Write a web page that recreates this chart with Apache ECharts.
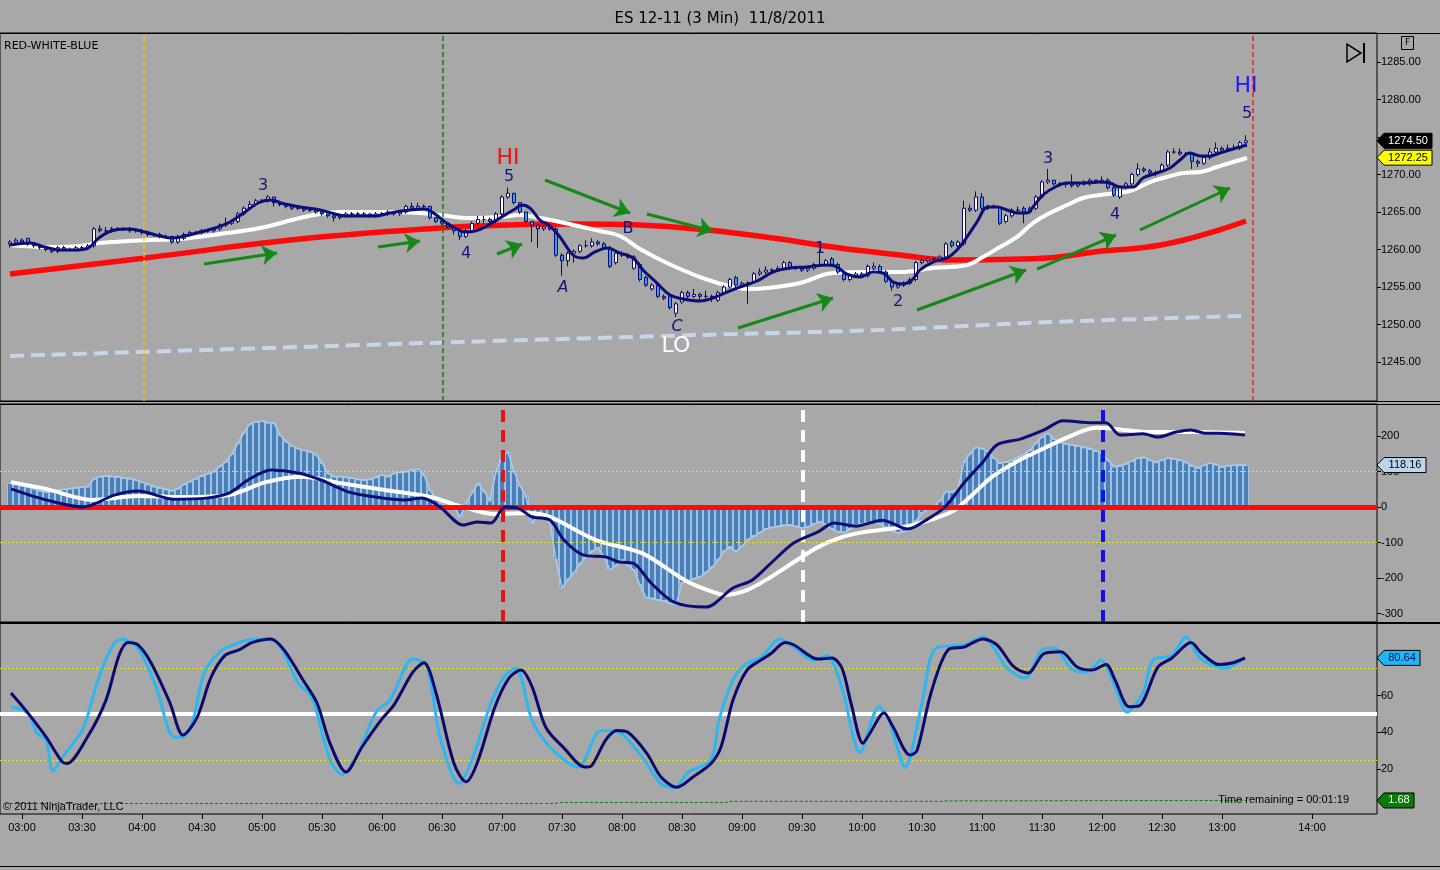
<!DOCTYPE html>
<html>
<head>
<meta charset="utf-8">
<script src="https://cdn.jsdelivr.net/npm/echarts@6/dist/echarts.min.js"></script>
<style>
html,body{margin:0;padding:0;background:#a8a8a8;}
#c{width:1440px;height:870px;}
</style>
</head>
<body>
<div id="c"></div>
<script>
// ---------------- DATA ----------------
const startMinute = 174;   // first bar 02:54
const barMinutes = 3;

// [open, close, low, high] per 3-min bar
const ohlc = [
[1260.75,1261.00,1260.25,1261.25],[1261.00,1261.25,1260.75,1261.50],[1261.25,1261.00,1260.75,1261.50],[1261.50,1260.75,1260.50,1261.50],[1260.75,1260.50,1260.25,1261.00],
[1260.50,1260.25,1260.00,1260.75],[1260.25,1260.00,1259.75,1260.50],[1260.00,1259.75,1259.50,1260.25],[1259.75,1260.25,1259.50,1260.50],[1260.25,1260.00,1259.75,1260.50],
[1260.00,1260.00,1259.75,1260.25],[1260.00,1260.25,1259.75,1260.50],[1260.25,1260.25,1260.00,1260.50],[1260.25,1260.50,1260.00,1260.75],[1260.50,1262.75,1260.25,1263.00],
[1262.75,1262.50,1262.25,1263.25],[1262.50,1262.50,1262.25,1263.00],[1262.50,1262.75,1262.25,1263.00],[1262.75,1262.75,1262.50,1263.00],[1262.75,1262.75,1262.50,1263.00],
[1262.75,1262.50,1262.25,1263.00],[1262.50,1262.50,1262.25,1262.75],[1262.50,1262.25,1262.00,1262.75],[1262.25,1262.00,1261.75,1262.50],[1262.00,1262.00,1261.75,1262.25],
[1262.00,1261.75,1261.50,1262.25],[1261.75,1261.75,1261.50,1262.00],[1261.75,1261.00,1260.75,1261.75],[1261.00,1261.50,1260.75,1262.00],[1261.50,1262.00,1261.25,1262.25],
[1262.00,1262.25,1261.75,1262.50],[1262.25,1262.25,1262.00,1262.50],[1262.25,1262.50,1262.00,1262.75],[1262.50,1262.50,1262.25,1262.75],[1262.50,1262.75,1262.25,1263.00],
[1262.75,1263.25,1262.50,1263.50],[1263.25,1263.50,1263.00,1264.25],[1263.50,1263.75,1263.25,1264.00],[1263.75,1264.75,1263.50,1265.00],[1264.75,1265.50,1264.50,1265.75],
[1265.50,1266.00,1265.25,1266.50],[1266.00,1266.50,1265.75,1266.75],[1266.50,1266.50,1266.25,1266.75],[1266.50,1267.00,1266.25,1267.25],[1267.00,1266.25,1265.75,1267.00],
[1266.25,1266.00,1265.75,1266.50],[1266.00,1265.75,1265.50,1266.00],[1265.75,1265.50,1265.25,1265.75],[1265.50,1265.50,1265.25,1265.75],[1265.50,1265.25,1265.00,1265.50],
[1265.25,1265.25,1265.00,1265.50],[1265.25,1265.00,1264.75,1265.25],[1265.00,1264.75,1264.50,1265.00],[1264.75,1264.50,1264.25,1264.75],[1264.50,1264.25,1263.75,1264.50],
[1264.25,1264.50,1264.00,1264.75],[1264.50,1264.75,1264.25,1265.00],[1264.75,1264.75,1264.50,1265.00],[1264.75,1264.75,1264.50,1265.00],[1264.75,1264.75,1264.50,1265.00],
[1264.75,1264.50,1264.25,1264.75],[1264.50,1264.75,1264.25,1265.00],[1264.75,1264.75,1264.50,1265.00],[1264.75,1265.00,1264.50,1265.25],[1265.00,1264.75,1264.50,1265.00],
[1264.75,1265.00,1264.50,1265.25],[1265.00,1265.75,1264.75,1266.00],[1265.75,1265.50,1265.25,1266.25],[1265.50,1265.75,1265.25,1266.25],[1265.75,1265.75,1265.50,1266.00],
[1265.75,1264.25,1264.00,1265.75],[1264.25,1263.75,1263.50,1264.25],[1263.75,1263.50,1263.25,1263.75],[1263.50,1263.00,1262.75,1263.50],[1263.00,1262.50,1262.00,1263.00],
[1262.50,1261.75,1261.25,1262.50],[1261.75,1262.50,1261.50,1262.75],[1262.50,1263.50,1262.25,1263.75],[1263.50,1264.00,1263.25,1264.50],[1264.00,1264.00,1263.50,1264.50],
[1264.00,1263.75,1263.50,1264.25],[1263.75,1264.75,1263.50,1265.00],[1264.75,1267.00,1264.50,1267.25],[1267.00,1267.50,1266.75,1268.25],[1267.50,1266.25,1266.00,1267.50],
[1266.25,1265.00,1264.75,1266.25],[1265.00,1263.75,1263.50,1265.00],[1263.75,1263.25,1261.00,1263.75],[1263.25,1262.75,1260.25,1263.50],[1262.75,1263.00,1262.50,1263.25],
[1263.00,1262.75,1262.50,1263.25],[1262.75,1259.25,1259.00,1263.00],[1259.25,1258.50,1256.50,1259.50],[1258.50,1259.50,1257.75,1259.75],[1259.50,1259.75,1258.25,1260.00],
[1259.75,1260.50,1259.50,1260.75],[1260.50,1260.50,1260.25,1261.25],[1260.50,1261.00,1260.25,1261.50],[1261.00,1260.75,1260.50,1261.25],[1260.75,1260.25,1260.00,1261.00],
[1260.25,1257.75,1257.50,1260.50],[1258.25,1259.50,1258.00,1259.75],[1259.50,1259.25,1259.00,1259.75],[1259.25,1259.00,1258.75,1259.50],[1257.50,1259.00,1257.25,1259.25],
[1258.00,1256.00,1255.75,1258.25],[1256.25,1255.25,1255.00,1256.50],[1254.75,1255.25,1254.50,1255.50],[1255.25,1253.75,1253.50,1255.50],[1253.75,1253.50,1253.25,1254.00],
[1253.75,1252.25,1252.00,1254.00],[1251.50,1252.75,1251.00,1253.00],[1253.00,1254.25,1252.75,1254.50],[1254.25,1253.75,1253.50,1254.50],[1253.75,1254.00,1253.50,1254.75],
[1254.00,1253.75,1253.25,1254.25],[1253.75,1253.75,1253.25,1254.50],[1253.75,1253.50,1253.00,1254.00],[1253.25,1254.25,1253.00,1254.50],[1254.25,1255.00,1254.00,1255.25],
[1255.00,1256.00,1254.75,1256.25],[1256.25,1255.25,1255.00,1256.50],[1255.25,1255.50,1255.00,1255.75],[1255.50,1255.50,1252.75,1255.75],[1255.75,1256.75,1255.50,1257.00],
[1256.75,1257.00,1256.50,1257.50],[1257.00,1257.25,1256.75,1257.75],[1257.25,1257.25,1257.00,1257.50],[1257.25,1257.50,1257.00,1257.75],[1257.50,1258.25,1257.25,1258.50],
[1258.25,1257.50,1257.25,1258.50],[1257.50,1257.50,1257.25,1257.75],[1257.50,1257.25,1257.00,1257.75],[1257.25,1257.50,1257.00,1257.75],[1257.50,1258.00,1257.25,1258.25],
[1258.00,1258.00,1257.75,1260.00],[1258.00,1258.50,1257.75,1258.75],[1258.75,1258.00,1257.75,1259.00],[1258.00,1257.00,1256.75,1258.25],[1256.75,1256.00,1255.75,1257.00],
[1256.00,1256.50,1255.75,1256.75],[1256.50,1256.75,1256.25,1257.00],[1256.75,1256.50,1256.25,1257.00],[1256.50,1257.75,1256.25,1258.00],[1257.50,1257.75,1257.25,1258.25],
[1257.75,1257.00,1256.75,1258.00],[1257.00,1255.75,1255.50,1257.25],[1255.75,1255.00,1254.50,1256.00],[1255.00,1255.25,1254.75,1255.50],[1255.25,1255.50,1255.00,1255.75],
[1255.50,1256.00,1255.25,1256.25],[1256.00,1258.25,1255.75,1258.50],[1258.25,1258.50,1258.00,1258.75],[1258.50,1258.75,1258.25,1259.00],[1258.75,1258.75,1258.50,1259.00],
[1258.75,1259.00,1258.50,1259.25],[1259.00,1260.75,1258.75,1261.00],[1261.00,1260.50,1260.25,1261.25],[1260.50,1261.00,1260.25,1261.25],[1260.75,1265.50,1260.50,1266.50],
[1265.50,1265.25,1265.00,1266.00],[1265.25,1267.00,1265.00,1267.75],[1267.00,1265.50,1265.25,1267.50],[1265.50,1265.75,1265.25,1266.00],[1265.75,1265.75,1265.50,1266.00],
[1265.50,1263.50,1263.25,1265.75],[1263.75,1264.50,1263.50,1264.75],[1264.50,1265.25,1264.25,1265.50],[1265.25,1265.25,1265.00,1265.75],[1265.50,1265.00,1263.50,1265.75],
[1265.00,1265.50,1264.75,1265.75],[1265.50,1267.00,1265.25,1267.25],[1267.00,1269.00,1266.75,1269.25],[1269.00,1269.25,1268.75,1270.75],[1269.25,1268.75,1268.50,1269.25],
[1268.75,1268.75,1268.50,1269.00],[1268.75,1268.75,1268.25,1269.00],[1268.75,1268.50,1268.25,1270.00],[1268.50,1268.75,1268.25,1269.00],[1268.75,1268.75,1268.50,1269.25],
[1268.75,1269.25,1268.50,1269.50],[1269.25,1269.00,1268.75,1269.25],[1269.00,1269.25,1268.75,1269.75],[1269.25,1268.25,1268.00,1269.50],[1268.25,1267.25,1267.00,1268.50],
[1267.00,1268.25,1266.75,1268.50],[1268.25,1268.75,1268.00,1269.00],[1268.75,1270.00,1268.50,1270.25],[1270.00,1270.75,1269.75,1271.50],[1270.75,1270.50,1270.25,1271.00],
[1270.50,1270.25,1270.00,1270.75],[1270.25,1270.25,1269.75,1270.50],[1270.50,1271.25,1270.25,1271.50],[1271.25,1273.00,1271.00,1273.25],[1273.00,1273.00,1272.75,1273.50],
[1273.00,1272.75,1272.50,1273.50],[1272.75,1272.75,1272.50,1273.00],[1272.75,1271.75,1270.75,1273.00],[1271.75,1271.50,1271.00,1272.00],[1271.50,1272.25,1271.25,1272.50],
[1272.25,1273.00,1272.00,1273.50],[1273.00,1273.50,1272.75,1274.25],[1273.50,1273.25,1272.75,1273.75],[1273.25,1273.50,1273.00,1274.00],[1273.50,1273.50,1273.25,1274.00],
[1273.50,1274.25,1273.25,1274.50],[1274.25,1274.50,1274.00,1275.25]
];

// moving averages on the price panel: [minute of day, price]
const fastMA = [[174,1260.6],[184,1260.87],[191.5,1260.33],[199,1259.93],[206.5,1259.93],[213,1260.2],[219,1261.67],[226.5,1262.6],[234,1262.73],[241.5,1262.33],[249,1261.8],[255,1261.53],[261.5,1261.8],[269,1262.33],[276.5,1262.87],[284,1263.67],[291.5,1265.0],[298,1266.2],[304,1266.6],[311.5,1266.07],[319,1265.67],[329,1265.27],[336.5,1264.73],[341.5,1264.47],[349,1264.47],[356.5,1264.47],[364,1264.87],[374,1265.27],[381.5,1265.4],[386.5,1264.73],[391.5,1263.67],[396.5,1262.87],[401.5,1262.33],[406.5,1262.47],[411.5,1263.0],[416.5,1263.8],[421.5,1264.6],[426.5,1265.4],[430,1265.93],[434,1265.53],[439,1263.93],[444,1263.13],[449,1261.67],[455.5,1259.27],[460.5,1258.87],[466.5,1259.67],[472.5,1260.2],[479,1259.53],[485.5,1258.87],[490.5,1257.27],[497.5,1255.53],[504,1253.93],[510.5,1253.4],[519,1253.13],[525.5,1253.53],[532.5,1254.33],[539,1255.0],[547.5,1255.8],[555.5,1257.0],[564,1257.53],[572.5,1257.67],[582.5,1257.93],[586.5,1257.8],[592.5,1256.73],[599,1256.33],[605.5,1257.0],[610.5,1256.87],[615.5,1255.67],[620,1255.4],[625,1255.93],[629,1257.27],[635.5,1258.33],[642.5,1258.87],[647.5,1259.93],[652.5,1261.67],[657.5,1263.67],[663,1265.67],[667.5,1265.67],[672.5,1265.27],[677.5,1264.87],[682.5,1264.87],[685.5,1265.67],[690.5,1267.27],[697.5,1268.47],[702.5,1268.87],[710.5,1268.87],[719,1269.0],[724,1268.87],[729,1268.33],[735.5,1268.33],[740.5,1269.53],[747.5,1270.2],[754,1270.87],[759,1271.93],[764,1272.87],[769,1272.47],[774,1272.47],[779,1272.87],[785.5,1273.4],[792.5,1273.93]];
const slowMA = [[174,1260.6],[194,1260.33],[209,1260.47],[219,1260.87],[244,1261.27],[259,1261.4],[279,1262.07],[299,1262.87],[319,1264.2],[329,1264.73],[339,1265.0],[359,1265.0],[379,1264.87],[389,1264.6],[404,1264.2],[419,1264.33],[429,1264.6],[439,1264.2],[449,1263.67],[469,1262.47],[479,1261.8],[489,1260.07],[502.5,1258.2],[519,1256.33],[535.5,1255.0],[544,1254.73],[552.5,1254.87],[569,1255.53],[585.5,1256.87],[602.5,1257.0],[619,1257.0],[635.5,1257.53],[652.5,1257.93],[660.5,1259.0],[669,1260.33],[677.5,1261.67],[685.5,1263.53],[694,1264.87],[702.5,1265.93],[710.5,1266.87],[719,1267.27],[727.5,1267.53],[735.5,1267.93],[744,1269.0],[752.5,1269.67],[760.5,1270.2],[769,1270.33],[777.5,1271.0],[785.5,1271.67],[792.5,1272.2]];
const trendMA = [[174,1256.73],[241.5,1258.87],[319,1261.4],[389,1262.87],[422.5,1263.27],[455.5,1263.4],[489,1263.27],[522.5,1262.6],[555.5,1261.53],[589,1260.2],[619,1259.27],[644.5,1258.6],[680.5,1258.73],[698.5,1259.0],[716,1259.67],[743,1260.33],[761,1261.27],[778.5,1262.6],[792,1263.8]];
const longMA = [[174,1245.8],[319,1247.0],[399,1247.67],[519,1248.6],[609,1249.27],[694,1250.33],[789.5,1251.13]];

// oscillator histogram, one value per bar
const macdHist = [
68,64,60,56,52,46,42,44,48,50, 52,54,56,58,80,86,88,86,85,82,
80,76,70,64,58,54,50,46,52,64, 72,80,88,94,100,115,128,150,180,210,
234,240,242,238,236,203,185,172,165,160, 156,148,124,95,86,86,84,82,78,76,
78,84,90,86,95,98,100,104,107,90, 48,22,10,2,0,-28,10,40,66,45,
18,100,140,155,100,60,30,-45,-20,-25, -45,-150,-228,-205,-185,-160,-140,-125,-115,-140,
-177,-165,-150,-165,-178,-220,-255,-258,-262,-265, -272,-275,-215,-208,-202,-197,-185,-170,-150,-125,
-113,-125,-110,-92,-82,-72,-62,-58,-55,-52, -51,-55,-60,-56,-48,-42,-50,-62,-70,-72,
-62,-52,-48,-44,-42,-48,-58,-68,-73,-70, -65,-40,-17,-6,2,18,44,42,50,127,
150,168,165,156,138,124,127,132,140,148, 160,180,198,208,192,182,178,175,172,168,
164,158,152,132,114,116,122,130,138,140, 132,126,132,138,136,132,126,116,110,118,
124,120,113,116,118,118,118.16
];
const macdLine = [[174.5,51],[192,20],[210.5,0],[226.5,34],[238,45],[256,22],[272,25],[283.5,39],[293,76],[304.5,104],[318,96],[329.5,76],[343.5,42],[357,28],[371,20],[380,25],[389,0],[400.5,-51],[407.5,-42],[414.5,-45],[421.5,0],[428,-3],[435,-28],[444,-37],[451,-93],[460.5,-135],[472,-141],[478.5,-155],[485.5,-158],[494.5,-214],[506,-268],[522,-282],[535.5,-228],[545,-206],[554.5,-158],[566,-101],[578,-70],[586,-45],[597,-54],[610,-37],[623,-62],[632,-37],[641.5,0],[651,68],[660.5,127],[667.5,175],[679.5,192],[691,217],[700.5,243],[715,237],[722,237],[729,203],[740.5,206],[748,197],[757,211],[764.5,217],[771.5,208],[778.5,208],[791.5,203]];
const signalLine = [[174.5,70],[192,51],[215,20],[238,31],[260.5,28],[283.5,34],[302,70],[320.5,85],[338.5,68],[361.5,48],[384.5,28],[398.5,3],[416.5,-20],[433,-17],[444,-28],[467,-93],[490,-130],[513,-211],[527,-242],[531,-248],[542.5,-234],[554.5,-197],[566,-155],[578,-113],[590,-85],[601.5,-70],[613.5,-62],[625,-51],[637,-31],[646.5,-8],[656,39],[665,85],[677,127],[689,160],[703,197],[717,223],[726.5,220],[743,211],[766.5,211],[791.5,208]];

// stochastic panel
const stochK = [[174.5,54],[183,50.5],[187.5,39.6],[192,36],[195.5,19],[201,27.6],[210.5,42],[217,65],[222,80],[226.5,89],[230,91],[238,86],[247,65],[256,37.5],[260.5,37.5],[265.5,46.7],[271,72],[279,84],[288.5,89],[297.5,91],[306.5,90],[318,67],[325,59],[334,25],[340,17],[348,28.4],[357,51],[364,57.6],[375.5,80],[382.5,76],[389,37.5],[398.5,12],[405,25],[414.5,56],[421.5,71],[427,75],[435,46.7],[444,32],[458,21],[469.5,41],[478.5,40],[490,26.5],[499.5,12],[506,9.5],[513,18],[524.5,25],[528.5,46.7],[535.5,68.6],[541.5,77],[549.5,81],[559,91],[566,86.6],[575.5,79.5],[582.5,82],[590,64],[599,29],[608.5,54],[613.5,46.7],[621.5,21],[630,56],[637,86],[651,87.7],[660.5,92],[672.5,75],[681.5,69.6],[690,85],[696,86],[705.5,74],[712.5,73],[719.5,79.5],[726.5,65],[732.5,51],[740.5,61.5],[745.5,79.5],[755,82],[762,92],[769,80.6],[781,75],[791.5,80.64]];
const stochD = [[174.5,61.5],[183,50.5],[192,37.5],[200,24],[202.5,23],[212.5,37],[222,57.6],[228.5,82],[233,89],[238,87.7],[244.5,78],[254,56],[260.5,38.5],[267.5,48],[274.5,70],[281.5,82],[288.5,85],[295,89],[304.5,91],[311,85],[320.5,68.6],[327.5,56],[334,34],[342,18.3],[350,32],[359.5,46.7],[366,55],[375.5,73],[381,78],[387,61.5],[396,23],[402,13],[407.5,23],[416.5,54],[423.5,69.6],[429.5,74],[435,65],[442,42.5],[451,31.4],[461.5,21],[465,22],[472,36],[477.5,41],[483,40],[492.5,28.4],[499.5,15.6],[507.5,10],[515.5,15.6],[524.5,23],[529.5,32],[535.5,57.6],[542.5,74],[549.5,79.5],[554.5,83],[561.5,89],[566,87.7],[578,80],[585,80.6],[590,75],[594.5,56],[600.5,34],[604,39.6],[611,50.5],[615.5,43],[624,27.6],[627.5,30],[634.5,61.5],[643,85],[651,86.6],[660.5,91],[667.5,87.7],[676,75.7],[683,72.4],[691,83],[699.5,84],[707.5,75.7],[715,74],[722,77],[726.5,68.6],[733.5,54],[738.5,54.4],[748,75.7],[755,80.6],[764.5,89],[770,83],[778.5,77],[785.5,78],[791.5,80.6]];
const tickIndicator = [[174,1.40],[447,1.40],[449,1.49],[532,1.49],[534,1.60],[640,1.60],[642,1.64],[792,1.68]];

// annotations
const waveText  = ['3','4','5','HI','A','B','C','LO','1','2','3','4','5','HI'];
const waveTime  = [300.5,402,423.5,423,450.5,483,507.5,507,579,618,693,726.5,792.5,792];
const wavePrice = [1268.5,1259.4,1269.7,1272.2,1254.9,1262.7,1249.7,1247.1,1260.1,1253.0,1272.1,1264.6,1278.1,1281.8];
// arrows: [startMinute, startPrice, endMinute, endPrice]
const trendArrows = [
[271,1258.07,307.5,1259.53],[358,1260.33,379,1261.13],[417.5,1259.4,430,1260.73],
[441.5,1269.27,484,1264.87],[492.5,1264.73,525.5,1262.47],[538,1249.53,585.5,1253.53],
[627.5,1251.93,682,1257.27],[687.5,1257.4,727,1261.93],[739,1262.6,784,1268.2]
];
const priceMarkers = [241, 390.5, 795.5];
const oscMarkers = [420.5, 570.5, 720.5];

// axis ticks
const xTickMinutes = [180,210,240,270,300,330,360,390,420,450,480,510,540,570,600,630,660,690,720,750,780,825];
const xTickLabels = ['03:00','03:30','04:00','04:30','05:00','05:30','06:00','06:30','07:00','07:30','08:00','08:30','09:00','09:30','10:00','10:30','11:00','11:30','12:00','12:30','13:00','14:00'];
const priceTicks = [1245,1250,1255,1260,1265,1270,1275,1280,1285];
const oscTicks = [-300,-200,-100,0,100,200];
const stochTicks = [20,40,60,80];

const titleText = 'ES 12-11 (3 Min)  11/8/2011';
const slowMALast = 1272.25;
const tickLast = 1.68;

// ---------------- CHART ----------------
const FONT = 'Liberation Sans';
const barTimes = ohlc.map((_, i) => startMinute + i * barMinutes);
const xMin = 169, xMax = 857.5;
const chart = echarts.init(document.getElementById('c'));

function xAxisFor(gridIndex, show) {
  return {
    type: 'value', gridIndex, min: xMin, max: xMax, position: 'bottom',
    splitLine: {show: false}, axisLine: {show: false, onZero: false},
    axisTick: show ? {show: true, customValues: xTickMinutes, length: 5, lineStyle: {color: '#000'}} : {show: false},
    axisLabel: show ? {show: true, customValues: xTickMinutes, color: '#000', fontFamily: FONT, fontSize: 11, margin: 8,
      formatter: v => xTickLabels[xTickMinutes.indexOf(v)]} : {show: false}
  };
}
function yAxisFor(gridIndex, min, max, ticks, labelTicks, fmt) {
  return {
    type: 'value', gridIndex, position: 'right', min, max,
    splitLine: {show: false}, axisLine: {show: false, onZero: false},
    axisTick: {show: true, customValues: ticks, length: 4, lineStyle: {color: '#000'}},
    axisLabel: {show: true, customValues: labelTicks, color: '#000', fontFamily: FONT, fontSize: 11, margin: 4, formatter: fmt}
  };
}
const gridBase = {left: 0, right: 63, show: true, borderColor: '#000', borderWidth: 1, backgroundColor: 'transparent'};

function waveStyle(i) {
  const t = waveText[i];
  if (t === 'HI') return {color: i < 7 ? '#ee1111' : '#1a1aff', fontSize: 22};
  if (t === 'LO') return {color: '#ffffff', fontSize: 22};
  return {color: '#14147a', fontSize: 16, fontStyle: (t === 'A' || t === 'C') ? 'italic' : 'normal'};
}
const vmColors = ['#f2c21a', '#1b7a1b', '#e82020'];
const omColors = ['#ee1111', '#ffffff', '#1010ee'];

const option = {
  backgroundColor: '#a8a8a8',
  animation: false,
  title: {text: titleText, left: 'center', top: 7, textStyle: {fontFamily: 'DejaVu Sans', fontSize: 15, fontWeight: 'normal', color: '#000'}},
  grid: [
    Object.assign({top: 33, height: 368}, gridBase),
    Object.assign({top: 404, height: 218}, gridBase),
    Object.assign({top: 623, height: 191}, gridBase)
  ],
  xAxis: [xAxisFor(0, false), xAxisFor(1, false), xAxisFor(2, true)],
  yAxis: [
    yAxisFor(0, 1239.8, 1288.87, priceTicks, priceTicks.filter(v => v !== 1275), v => v.toFixed(2)),
    yAxisFor(1, -323.9, 290.1, oscTicks, oscTicks, v => String(v)),
    yAxisFor(2, -4.6, 99.7, stochTicks, stochTicks.slice(0, 3), v => String(v)),
    {type: 'value', gridIndex: 2, min: 0.42, max: 18.2, show: false}
  ],
  series: [
    // ---- price panel
    {type: 'line', xAxisIndex: 0, yAxisIndex: 0, data: longMA, smooth: 0.3, symbol: 'none', z: 2,
      lineStyle: {color: '#c4d6ec', width: 4, type: [14, 7]},
      markLine: {silent: true, symbol: 'none', label: {show: false},
        data: priceMarkers.map((m, i) => ({xAxis: m, lineStyle: {color: vmColors[i], width: 1.5, type: [5, 3]}}))}},
    {type: 'line', xAxisIndex: 0, yAxisIndex: 0, data: trendMA, smooth: 0.4, symbol: 'none', z: 3,
      lineStyle: {color: '#ff0a0a', width: 5.5}},
    {type: 'line', xAxisIndex: 0, yAxisIndex: 0, data: slowMA, smooth: 0.4, symbol: 'none', z: 3,
      lineStyle: {color: '#ffffff', width: 4}},
    {type: 'candlestick', xAxisIndex: 0, yAxisIndex: 0, z: 4, barWidth: 4,
      encode: {x: 0, y: [1, 2, 3, 4]},
      data: ohlc.map((r, i) => [barTimes[i], r[0], r[1], r[2], r[3]]),
      itemStyle: {color: '#ffffff', color0: '#2f9cf5', borderColor: '#0a0a70', borderColor0: '#0a0a70', borderWidth: 1}},
    {type: 'line', xAxisIndex: 0, yAxisIndex: 0, data: fastMA, smooth: 0.4, symbol: 'none', z: 5,
      lineStyle: {color: '#0d0d78', width: 3}},
    {type: 'lines', coordinateSystem: 'cartesian2d', xAxisIndex: 0, yAxisIndex: 0, z: 6,
      symbol: ['none', 'arrow'], symbolSize: 15,
      lineStyle: {color: '#17871a', width: 3, opacity: 1},
      data: trendArrows.map(a => ({coords: [[a[0], a[1]], [a[2], a[3]]]}))},
    {type: 'scatter', xAxisIndex: 0, yAxisIndex: 0, z: 7, symbolSize: 2, itemStyle: {color: 'rgba(0,0,0,0)', opacity: 1},
      data: waveText.map((t, i) => {
        const s = waveStyle(i);
        return {value: [waveTime[i], wavePrice[i]],
          label: {show: true, position: 'inside', formatter: t, color: s.color, fontSize: s.fontSize, opacity: 1,
            fontStyle: s.fontStyle || 'normal', fontFamily: 'DejaVu Sans'}};
      })},
    // ---- oscillator panel
    {type: 'bar', xAxisIndex: 1, yAxisIndex: 1, z: 2, barWidth: 6,
      data: macdHist.map((v, i) => [barTimes[i], v]),
      itemStyle: {color: '#4a80b8', borderColor: '#9fc2e4', borderWidth: 1}},
    {type: 'line', xAxisIndex: 1, yAxisIndex: 1, z: 3, symbol: 'none',
      data: macdHist.map((v, i) => [barTimes[i], v]),
      lineStyle: {color: '#a9cbec', width: 1.5},
      markLine: {silent: true, symbol: 'none', label: {show: false},
        data: [
          {yAxis: 100, lineStyle: {color: '#e6e600', width: 1, type: [2, 2]}},
          {yAxis: -100, lineStyle: {color: '#e6e600', width: 1, type: [2, 2]}},
          {yAxis: 0, lineStyle: {color: '#ff0a0a', width: 5, type: 'solid'}}
        ]}},
    {type: 'line', xAxisIndex: 1, yAxisIndex: 1, z: 4, symbol: 'none', smooth: 0.3, data: signalLine,
      lineStyle: {color: '#ffffff', width: 4}},
    {type: 'line', xAxisIndex: 1, yAxisIndex: 1, z: 5, symbol: 'none', smooth: 0.3, data: macdLine,
      lineStyle: {color: '#0d0d78', width: 3},
      markLine: {silent: true, symbol: 'none', label: {show: false},
        data: oscMarkers.map((m, i) => ({xAxis: m, lineStyle: {color: omColors[i], width: 4, type: [12, 8]}}))}},
    // ---- stochastic panel
    {type: 'line', xAxisIndex: 2, yAxisIndex: 3, z: 2, symbol: 'none', data: tickIndicator,
      lineStyle: {color: '#0f7a0f', width: 1, type: [3, 2]}},
    {type: 'line', xAxisIndex: 2, yAxisIndex: 2, z: 3, symbol: 'none', smooth: 0.3, data: stochK,
      lineStyle: {color: '#2bb8f2', width: 3},
      markLine: {silent: true, symbol: 'none', label: {show: false}, z: 1,
        data: [
          {yAxis: 50, lineStyle: {color: '#ffffff', width: 4, type: 'solid'}},
          {yAxis: 75, lineStyle: {color: '#e6e600', width: 1, type: [2, 2]}},
          {yAxis: 25, lineStyle: {color: '#e6e600', width: 1, type: [2, 2]}}
        ]}},
    {type: 'line', xAxisIndex: 2, yAxisIndex: 2, z: 4, symbol: 'none', smooth: 0.3, data: stochD,
      lineStyle: {color: '#0a0a6e', width: 3}}
  ]
};
chart.setOption(option);

// ---------- badges and decorations ----------
function badge(yAxisIndex, value, text, bg, fg) {
  const y = chart.convertToPixel({yAxisIndex}, value);
  const x0 = 1377, w = text.length * 6 + 6;
  return {type: 'group', z: 100, children: [
    {type: 'polygon', z: 100, shape: {points: [[x0, y], [x0 + 7, y - 7.5], [x0 + 7 + w, y - 7.5], [x0 + 7 + w, y + 7.5], [x0 + 7, y + 7.5]]},
      style: {fill: bg, stroke: '#000', lineWidth: 1}},
    {type: 'text', z: 101, style: {x: x0 + 7 + w / 2, y: y, text, fill: fg, font: '11px ' + FONT, align: 'center', verticalAlign: 'middle'}}
  ]};
}
const lastClose = ohlc[ohlc.length - 1][1];
const lastHist = macdHist[macdHist.length - 1];
const lastK = stochK[stochK.length - 1][1];
const line = (x1, y1, x2, y2, w) => ({type: 'line', z: 90, shape: {x1, y1, x2, y2}, style: {stroke: '#000', lineWidth: w || 1}});
chart.setOption({graphic: [
  line(0, 33.5, 1440, 33.5), line(0, 401.5, 1440, 401.5), line(0, 404.5, 1440, 404.5),
  line(0, 622.5, 1440, 622.5), line(0, 623.5, 1440, 623.5), line(0, 866.5, 1440, 866.5),
  {type: 'text', z: 95, style: {x: 4, y: 46, text: 'RED-WHITE-BLUE', fill: '#000', font: '11px DejaVu Sans', verticalAlign: 'middle'}},
  {type: 'text', z: 95, style: {x: 3, y: 807, text: '\u00a9 2011 NinjaTrader, LLC', fill: '#000', font: '11px ' + FONT, verticalAlign: 'middle'}},
  {type: 'text', z: 95, style: {x: 1349, y: 800, text: 'Time remaining = 00:01:19', fill: '#000', font: '11px ' + FONT, align: 'right', verticalAlign: 'middle'}},
  {type: 'rect', z: 95, shape: {x: 1401.5, y: 36.5, width: 12, height: 13}, style: {fill: 'none', stroke: '#000', lineWidth: 1}},
  {type: 'text', z: 95, style: {x: 1407.5, y: 43, text: 'F', fill: '#000', font: '9px DejaVu Sans', align: 'center', verticalAlign: 'middle'}},
  {type: 'polygon', z: 95, shape: {points: [[1347, 44], [1347, 62], [1361, 53]]}, style: {fill: 'none', stroke: '#000', lineWidth: 1.5}},
  {type: 'line', z: 95, shape: {x1: 1364, y1: 43, x2: 1364, y2: 63}, style: {stroke: '#000', lineWidth: 2}},
  badge(0, lastClose, lastClose.toFixed(2), '#000000', '#ffffff'),
  badge(0, slowMALast, slowMALast.toFixed(2), '#ffff00', '#000000'),
  badge(1, lastHist, lastHist.toFixed(2), '#bcd5ef', '#000000'),
  badge(2, lastK, lastK.toFixed(2), '#1fb6f3', '#10106a'),
  badge(3, tickLast, tickLast.toFixed(2), '#0a7a0a', '#ffffff')
]});
</script>
</body>
</html>
